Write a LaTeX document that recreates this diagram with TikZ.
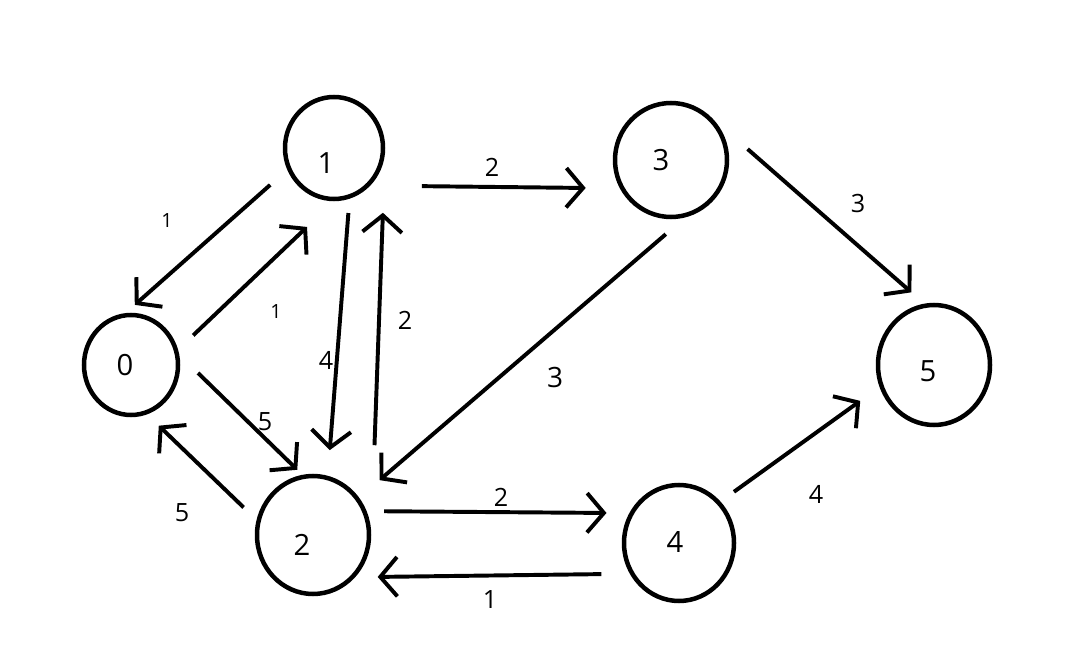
\documentclass[tikz,border=0pt]{standalone}
\usepackage{fontspec}
\setmainfont{Open Sans}
\usetikzlibrary{arrows.meta,shapes.geometric}

\begin{document}
\begin{tikzpicture}[
  vertex/.style={draw, ellipse, line width=3.2pt, inner sep=0pt},
  vlabel/.style={inner sep=0pt, font=\fontsize{20.8}{24}\selectfont},
  edge/.style={line width=2.8pt, -{Straight Barb[length=12pt,width=28pt]}},
  wt/.style={inner sep=0pt, font=\fontsize{17.9}{21}\selectfont},
  wtsmall/.style={inner sep=0pt, font=\fontsize{13.9}{16}\selectfont},
]
  \useasboundingbox (0,0) rectangle (27.125,-16.4);

  % vertices
  \foreach \n/\x/\y/\w/\h/\dx/\dy in {0/3.275/-9.125/2.35/2.5/-4.3/0,
                                      1/8.35/-3.7/2.45/2.55/-5.7/-10.4,
                                      2/7.825/-13.375/2.8/2.95/-7.8/-7.1,
                                      3/16.775/-4.0/2.8/2.85/-7.1/0,
                                      4/16.975/-13.575/2.75/2.9/-2.8/0.7,
                                      5/23.35/-9.125/2.8/3.0/-4.3/-4.7}
    \node[vertex, minimum width=\w cm, minimum height=\h cm,
          label={[vlabel, name=t\n, shift={(\dx pt,\dy pt)}]center:\n}] (n\n) at (\x,\y) {};

  % edges
  \draw[edge, shorten <=16.2pt, shorten >=8.8pt] (n1.205.8) -- (n0.96.1);
  \draw[edge, shorten <=14.8pt, shorten >=26.5pt] (n0.18.6) -- (n1.270);
  \draw[edge, shorten <=10.2pt, shorten >=18.3pt] (n1.287.6) -- (n2.76.3);
  \draw[edge, shorten <=63.9pt, shorten >=46.1pt] (n2.east) -- (n1.east);
  \draw[edge, shorten <=36.7pt, shorten >=24.3pt] (n1.314.3) -- (n3.209.5);
  \draw[edge, shorten <=33.8pt, shorten >=12.2pt] (n3.46.8) -- (n5.99.3);
  \draw[edge, shorten <=18.3pt, shorten >=19.1pt] (n3.284.7) -- (n2.39.1);
  \draw[edge, shorten <=18.6pt, shorten >=5.1pt] (n0.12.8) -- (n2.100.8);
  \draw[edge, shorten <=12.8pt, shorten >=11.6pt] (n2.165.4) -- (n0.288.2);
  \draw[edge, shorten <=12.4pt, shorten >=16.2pt] (n2.24.3) -- (n4.149.1);
  \draw[edge, shorten <=20.2pt, shorten >=16pt] (n4.212) -- (n2.315.1);
  \draw[edge, shorten <=11.8pt, shorten >=16.9pt] (n4.45.6) -- (n5.202.9);

  %% weights
  \node[wtsmall] (w10) at (4.175,-5.525) {1};
  \node[wtsmall] (w01) at (6.9,-7.8) {1};
  \node[wt] (w12) at (8.15,-9.0) {4};
  \node[wt] (w21) at (10.125,-8.0) {2};
  \node[wt] (w13) at (12.3,-4.175) {2};
  \node[wt] (w35) at (21.45,-5.1) {3};
  \node[wt, font=\fontsize{19.9}{23}\selectfont] (w32) at (13.875,-9.45) {3};
  \node[wt] (w02) at (6.625,-10.55) {5};
  \node[wt] (w20) at (4.55,-12.825) {5};
  \node[wt] (w24) at (12.525,-12.425) {2};
  \node[wt] (w42) at (12.25,-15.0) {1};
  \node[wt] (w45) at (20.4,-12.35) {4};

\end{tikzpicture}
\end{document}
